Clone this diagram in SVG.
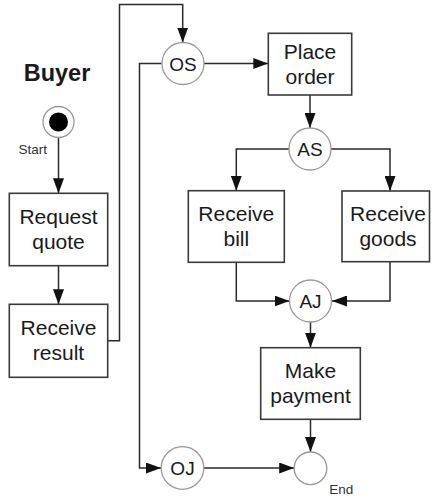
<svg xmlns="http://www.w3.org/2000/svg" width="432" height="499" viewBox="0 0 432 499">
<style>
.box{fill:#fff;stroke:#3a3a3a;stroke-width:1.6}
.circ{fill:#fff;stroke:#999;stroke-width:1.3}
.lbl{font-family:"Liberation Sans",Arial,sans-serif;font-size:21px;fill:#1a1a1a;text-anchor:middle}
.clbl{font-family:"Liberation Sans",Arial,sans-serif;font-size:19px;fill:#1a1a1a;text-anchor:middle}
.small{font-family:"Liberation Sans",Arial,sans-serif;font-size:13.5px;fill:#333}
.conn path{fill:none;stroke:#2a2a2a;stroke-width:1.5}
.conn path.arr{marker-end:url(#ah)}
</style>
<defs>
<marker id="ah" viewBox="0 0 15 11" refX="15" refY="5.5" markerWidth="15" markerHeight="11" markerUnits="userSpaceOnUse" orient="auto">
<path d="M0,0 L15,5.5 L0,11 Z" fill="#111"/>
</marker>
</defs>
<rect width="432" height="499" fill="#fff"/>
<text x="57" y="81" font-family="Liberation Sans,Arial,sans-serif" font-size="23.5" font-weight="bold" fill="#1a1a1a" text-anchor="middle">Buyer</text>
<g class="conn">
<path class="arr" d="M58.5 138 V193.3"/>
<path class="arr" d="M58.5 265.7 V304.3"/>
<path class="arr" d="M107.7 340.7 H119.5 V4.5 H182.7 V42.5"/>
<path class="arr" d="M204 63.5 H268.3"/>
<path class="arr" d="M161.5 63.5 H139.5 V468 H161"/>
<path class="arr" d="M310 95 V128"/>
<path class="arr" d="M289 149 H236.3 V190.7"/>
<path class="arr" d="M331 149 H390 V191"/>
<path class="arr" d="M236.3 262.3 V301 H289.5"/>
<path class="arr" d="M390 261.7 V301 H332"/>
<path class="arr" d="M310.5 322 V347.7"/>
<path class="arr" d="M310.5 419.3 V452"/>
<path class="arr" d="M204 468 H294.2"/>
</g>
<g id="start">
<circle class="circ" cx="58.5" cy="122" r="15.5"/>
<circle cx="58.5" cy="122" r="9.5" fill="#000"/>
<text class="small" x="18.5" y="153.5">Start</text>
</g>
<g id="request-quote">
<rect class="box" x="9.3" y="193.3" width="98.4" height="72.4"/>
<text class="lbl" x="58.5" y="224">Request</text>
<text class="lbl" x="58.5" y="249">quote</text>
</g>
<g id="receive-result">
<rect class="box" x="9.3" y="304.3" width="98.4" height="73"/>
<text class="lbl" x="58.5" y="335.3">Receive</text>
<text class="lbl" x="58.5" y="360.3">result</text>
</g>
<g id="os">
<circle class="circ" cx="183" cy="63.5" r="21"/>
<text class="clbl" x="183" y="70.5">OS</text>
</g>
<g id="place-order">
<rect class="box" x="268.3" y="33.3" width="83.4" height="61.7"/>
<text class="lbl" x="310" y="58.7">Place</text>
<text class="lbl" x="310" y="83.7">order</text>
</g>
<g id="as">
<circle class="circ" cx="310" cy="149" r="21"/>
<text class="clbl" x="310" y="156">AS</text>
</g>
<g id="receive-bill">
<rect class="box" x="188.3" y="190.7" width="96" height="71.6"/>
<text class="lbl" x="236.3" y="221">Receive</text>
<text class="lbl" x="236.3" y="246">bill</text>
</g>
<g id="receive-goods">
<rect class="box" x="342" y="191" width="87.5" height="70.7"/>
<text class="lbl" x="388" y="221">Receive</text>
<text class="lbl" x="388" y="246">goods</text>
</g>
<g id="aj">
<circle class="circ" cx="310.5" cy="301" r="21"/>
<text class="clbl" x="310.5" y="308">AJ</text>
</g>
<g id="make-payment">
<rect class="box" x="260.7" y="347.7" width="99.6" height="71.6"/>
<text class="lbl" x="310.5" y="378">Make</text>
<text class="lbl" x="310.5" y="403">payment</text>
</g>
<g id="oj">
<circle class="circ" cx="182.5" cy="468" r="21.3"/>
<text class="clbl" x="182.5" y="475">OJ</text>
</g>
<g id="end">
<circle class="circ" cx="310.5" cy="468.3" r="16.3"/>
<text class="small" x="329.3" y="493.5">End</text>
</g>
</svg>
